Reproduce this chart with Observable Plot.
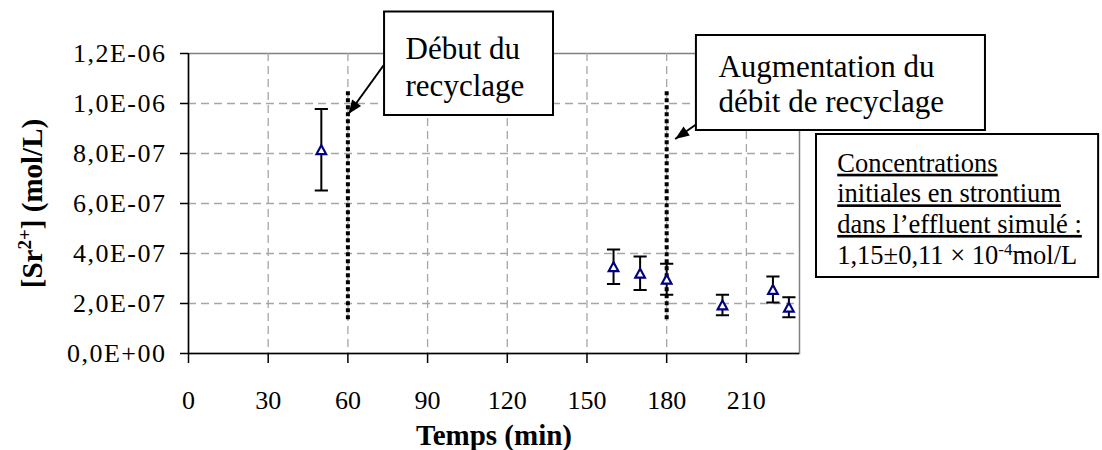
<!DOCTYPE html>
<html><head><meta charset="utf-8">
<script src="https://cdn.jsdelivr.net/npm/d3@7"></script>
<script src="https://cdn.jsdelivr.net/npm/@observablehq/plot@0.6"></script>
<style>body{margin:0;background:#fff;} svg text{font-family:"Liberation Serif", serif !important;}</style>
</head><body><div id="chart"></div>
<script>
// ---- data ----
const times = [50, 160, 170, 180, 201, 220, 226];
const conc  = [8.15e-7, 3.47e-7, 3.21e-7, 2.97e-7, 1.94e-7, 2.56e-7, 1.85e-7];
const errs  = [1.63e-7, 0.69e-7, 0.67e-7, 0.62e-7, 0.41e-7, 0.52e-7, 0.40e-7];
const xTicks = [0, 30, 60, 90, 120, 150, 180, 210];
const xTickLabels = ["0", "30", "60", "90", "120", "150", "180", "210"];
const yTicks = [0, 2e-7, 4e-7, 6e-7, 8e-7, 1e-6, 1.2e-6];
const yTickLabels = ["0,0E+00", "2,0E-07", "4,0E-07", "6,0E-07", "8,0E-07", "1,0E-06", "1,2E-06"];
const eventTimes = [60, 180];
const eventSpan = [1.35e-7, 1.057e-6];
const xTitle = "Temps (min)";
const yTitleParts = ["[Sr", "2+", "] (mol/L)"];
const boxLabels = ["Début du\nrecyclage", "Augmentation du\ndébit de recyclage"];
const noteLines = ["Concentrations", "initiales en strontium", "dans l’effluent simulé :", "1,15±0,11 × 10-4mol/L"];
const noteLastParts = ["1,15±0,11 × 10", "-4", "mol/L"];
// annotation anchors (data units)
const boxX1 = [73.8, 191.2, 236.4], boxX2 = [137.4, 300.0, 342.6];
const boxY1 = [1.366e-6, 1.272e-6, 8.76e-7], boxY2 = [9.52e-7, 8.92e-7, 3.04e-7];
const labelX = [81.7, 199.5, 244.2], labelY = [1.2856e-6, 1.204e-6, 8.14e-7];
const arrowFromX = [73.6, 199.6], arrowFromY = [1.155e-6, 9.79e-7];
const arrowToX = [60.2, 183.2], arrowToY = [9.58e-7, 8.58e-7];

const idx = d3.range(times.length);
const capSymbol = {draw(ctx, size) { const r = Math.sqrt(size / Math.PI); ctx.moveTo(-r, 0); ctx.lineTo(r, 0); }};
const triSymbol = {draw(ctx, size) { const r = Math.sqrt(size / Math.PI); ctx.moveTo(0, -r * 0.95); ctx.lineTo(r, r * 0.9); ctx.lineTo(-r, r * 0.9); ctx.closePath(); }};

const chart = Plot.plot({
  width: 1102, height: 450,
  marginLeft: 188, marginRight: 303, marginTop: 53, marginBottom: 97,
  style: {fontFamily: "Liberation Serif", fontSize: "26px", background: "white", overflow: "visible", color: "black"},
  x: {domain: [0, 230]},
  y: {domain: [0, 1.2e-6]},
  marks: [
    Plot.frame({stroke: "#808080", strokeWidth: 1.5}),
    Plot.gridX(xTicks.slice(1), {stroke: "#a6a6a6", strokeOpacity: 1, strokeWidth: 1.3, strokeDasharray: "8,5"}),
    Plot.gridY(yTicks.slice(1, -1), {stroke: "#a6a6a6", strokeOpacity: 1, strokeWidth: 1.3, strokeDasharray: "8,5"}),
    Plot.ruleX([0], {stroke: "black", strokeWidth: 1.5}),
    Plot.ruleY([0], {stroke: "black", strokeWidth: 1.5}),
    Plot.axisX({ticks: xTicks, tickFormat: d => xTickLabels[xTicks.indexOf(d)], tickSize: 10, tickPadding: 27, label: null, fontSize: 26, stroke: "black", strokeWidth: 1.5}),
    Plot.axisY({ticks: yTicks, tickFormat: d => yTickLabels[yTicks.indexOf(d)], tickSize: 8, tickPadding: 14, label: null, fontSize: 26, stroke: "black", strokeWidth: 1.5}),
    Plot.ruleX(eventTimes, {y1: eventSpan[0], y2: eventSpan[1], stroke: "black", strokeWidth: 4, strokeDasharray: "4,3"}),
    Plot.ruleX(idx, {x: i => times[i], y1: i => conc[i] - errs[i], y2: i => conc[i] + errs[i], stroke: "black", strokeWidth: 2}),
    Plot.dot(idx, {x: i => times[i], y: i => conc[i] + errs[i], symbol: capSymbol, r: 6.6, fill: "none", stroke: "black", strokeWidth: 2}),
    Plot.dot(idx, {x: i => times[i], y: i => conc[i] - errs[i], symbol: capSymbol, r: 6.6, fill: "none", stroke: "black", strokeWidth: 2}),
    Plot.dot(idx, {x: i => times[i], y: i => conc[i], symbol: triSymbol, r: 4.8, fill: "white", stroke: "#000080", strokeWidth: 2.2}),
    Plot.link([0, 1], {x1: i => arrowFromX[i], y1: i => arrowFromY[i], x2: i => arrowToX[i], y2: i => arrowToY[i], stroke: "black", strokeWidth: 2}),
    Plot.rect([0, 1, 2], {x1: i => boxX1[i], x2: i => boxX2[i], y1: i => boxY1[i], y2: i => boxY2[i], fill: "white", stroke: "black", strokeWidth: 2}),
    Plot.text([0], {x: i => labelX[i], y: i => labelY[i], text: i => boxLabels[i], textAnchor: "start", lineAnchor: "top", fontSize: 31, lineHeight: 1.206}),
    Plot.text([1], {x: i => labelX[i], y: i => labelY[i], text: i => boxLabels[i], textAnchor: "start", lineAnchor: "top", fontSize: 31, lineHeight: 1.129}),
    Plot.text([2], {x: i => labelX[i], y: i => labelY[i], text: () => noteLines.join("\n"), textAnchor: "start", lineAnchor: "top", fontSize: 26.5, lineHeight: 1.155}),
    Plot.text([xTitle], {frameAnchor: "bottom", textAnchor: "middle", lineAnchor: "middle", dy: 82.7, fontSize: 29, fontWeight: "bold"}),
    Plot.text([yTitleParts.join("")], {frameAnchor: "left", textAnchor: "middle", lineAnchor: "middle", rotate: -90, dx: -155.6, fontSize: 29, fontWeight: "bold"})
  ]
});
document.getElementById("chart").appendChild(chart);

const s = d3.select(chart);
s.attr("font-family", "Liberation Serif");
s.selectAll('g[aria-label="y-axis tick label"] text').attr("letter-spacing", "1.5");
// superscript in y title
const yt = s.selectAll("text").filter(function () { return this.textContent === yTitleParts.join(""); });
yt.text(null);
yt.append("tspan").text(yTitleParts[0]);
yt.append("tspan").attr("dy", -11).attr("font-size", 19).text(yTitleParts[1]);
yt.append("tspan").attr("dy", 11).text(yTitleParts[2]);
// note underline and superscript
s.selectAll("tspan").each(function () {
  const t = this.textContent;
  const k = noteLines.indexOf(t);
  if (k >= 0 && k < 3) d3.select(this).style("text-decoration", "underline");
  if (k === 3) {
    const ts = d3.select(this);
    ts.text(noteLastParts[0]);
    ts.append("tspan").attr("dy", -9).attr("font-size", 17).text(noteLastParts[1]);
    ts.append("tspan").attr("dy", 9).text(noteLastParts[2]);
  }
});
// filled arrowheads
const defs = s.append("defs");
defs.append("marker").attr("id", "ah").attr("markerUnits", "userSpaceOnUse")
  .attr("markerWidth", 18).attr("markerHeight", 16).attr("viewBox", "-16 -8 18 16")
  .attr("refX", 0).attr("refY", 0).attr("orient", "auto")
  .append("path").attr("d", "M0,0L-14,-5.5L-14,5.5Z").attr("fill", "black");
s.selectAll('g[aria-label="link"] path').attr("marker-end", "url(#ah)");
</script>
</body></html>
